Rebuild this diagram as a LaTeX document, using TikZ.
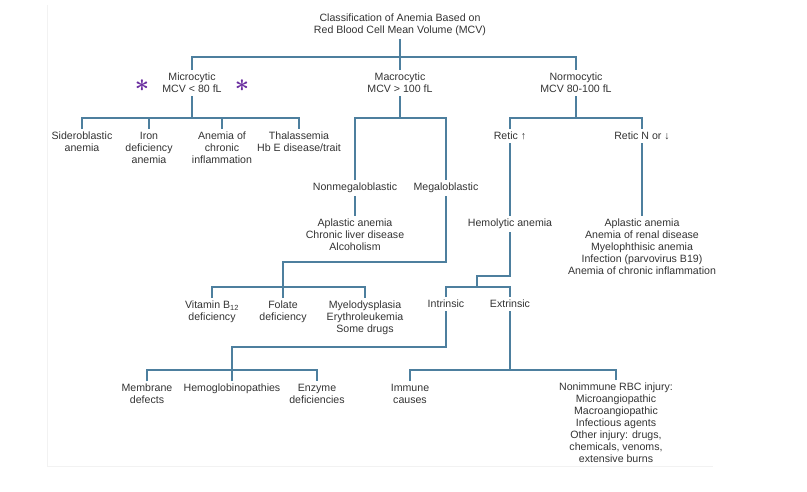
\documentclass[tikz,border=0pt]{standalone}
\usepackage{fontspec}
\setmainfont{Liberation Sans}
\usepackage{tikz}
\definecolor{linecol}{RGB}{77,127,158}
\definecolor{txtcol}{RGB}{51,51,51}
\definecolor{starcol}{RGB}{106,46,160}

\begin{document}
\begin{tikzpicture}[x=1pt,y=-1pt,
	box/.style={anchor=north,align=center,inner sep=3pt,text=txtcol,font=\fontsize{10.6}{12}\selectfont},
	link/.style={draw=linecol,line width=1.5pt},
	star/.style={text=starcol,inner sep=0pt,font=\fontsize{34}{34}\selectfont\boldmath}]
	\useasboundingbox (0,0) rectangle (807,491);
	\draw[black!5,line width=0.8pt] (47.5,5) -- (47.5,466) -- (713,466);
	\node[box] (title) at (400,11) {Classification of Anemia Based on\\Red Blood Cell Mean Volume (MCV)};
	\node[box] (micro) at (192,70) {Microcytic\\MCV < 80 fL};
	\node[box] (macro) at (400,70) {Macrocytic\\MCV > 100 fL};
	\node[box] (norm) at (576,70) {Normocytic\\MCV 80-100 fL};
	\node[star] (starL) at (142,86) {$\ast$};
	\node[star] (starR) at (242,86) {$\ast$};
	\node[box] (sidero) at (82,129) {Sideroblastic\\anemia};
	\node[box] (iron) at (149,129) {Iron\\deficiency\\anemia};
	\node[box] (acd) at (222,129) {Anemia of\\chronic\\inflammation};
	\node[box] (thal) at (299,129) {Thalassemia\\Hb E disease/trait};
	\node[box] (nonmeg) at (355,180) {Nonmegaloblastic};
	\node[box] (meg) at (446,180) {Megaloblastic};
	\node[box] (nonmegcauses) at (355,216) {Aplastic anemia\\Chronic liver disease\\Alcoholism};
	\node[box] (b12) at (212,298) {Vitamin B\textsubscript{12}\\deficiency};
	\node[box] (folate) at (283,298) {Folate\\deficiency};
	\node[box] (myelo) at (365,298) {Myelodysplasia\\Erythroleukemia\\Some drugs};
	\node[box] (reticup) at (510,129) {Retic ↑};
	\node[box] (reticdown) at (642,129) {Retic N or ↓};
	\node[box] (hemo) at (510,216) {Hemolytic anemia};
	\node[box] (reticcauses) at (642,216) {Aplastic anemia\\Anemia of renal disease\\Myelophthisic anemia\\Infection (parvovirus B19)\\Anemia of chronic inflammation};
	\node[box] (intr) at (446,297) {Intrinsic};
	\node[box] (extr) at (510,297) {Extrinsic};
	\node[box] (membrane) at (147,381) {Membrane\\defects};
	\node[box] (hbpath) at (232,381) {Hemoglobinopathies};
	\node[box] (enzyme) at (317,381) {Enzyme\\deficiencies};
	\node[box] (immune) at (410,381) {Immune\\causes};
	\node[box] (nonimmune) at (616,380) {Nonimmune RBC injury:\\Microangiopathic\\Macroangiopathic\\Infectious agents\\Other injury: drugs,\\chemicals, venoms,\\extensive burns};
	\coordinate (topbar) at (400,57);
	\coordinate (microbar) at (192,118);
	\coordinate (macrobar) at (400,118);
	\coordinate (normbar) at (576,118);
	\coordinate (megbend) at (283,262);
	\coordinate (megbar) at (283,287);
	\coordinate (hemobend) at (477,276);
	\coordinate (hemobar) at (477,287);
	\coordinate (intrbend) at (232,347);
	\coordinate (intrbar) at (232,370);
	\coordinate (extrbar) at (510,370);
	\draw[link] (title) -- (topbar);
	\draw[link] (micro.north) |- (topbar) -| (norm.north);
	\draw[link] (topbar) -- (macro);
	\draw[link] (micro) -- (microbar);
	\draw[link] (sidero.north) |- (microbar) -| (thal.north);
	\draw[link] (iron) -- (iron |- microbar);
	\draw[link] (acd) -- (acd |- microbar);
	\draw[link] (macro) -- (macrobar);
	\draw[link] (nonmeg.north) |- (macrobar) -| (meg.north);
	\draw[link] (nonmeg) -- (nonmegcauses);
	\draw[link] (meg.south) |- (megbend) -- (megbar);
	\draw[link] (b12.north) |- (megbar) -| (myelo.north);
	\draw[link] (folate) -- (megbar);
	\draw[link] (norm) -- (normbar);
	\draw[link] (reticup.north) |- (normbar) -| (reticdown.north);
	\draw[link] (reticup) -- (hemo);
	\draw[link] (reticdown) -- (reticcauses);
	\draw[link] (hemo.south) |- (hemobend) -- (hemobar);
	\draw[link] (intr.north) |- (hemobar) -| (extr.north);
	\draw[link] (intr.south) |- (intrbend) -- (intrbar);
	\draw[link] (membrane.north) |- (intrbar) -| (enzyme.north);
	\draw[link] (hbpath) -- (intrbar);
	\draw[link] (extr) -- (extrbar);
	\draw[link] (immune.north) |- (extrbar) -| (nonimmune.north);
\end{tikzpicture}
\end{document}
